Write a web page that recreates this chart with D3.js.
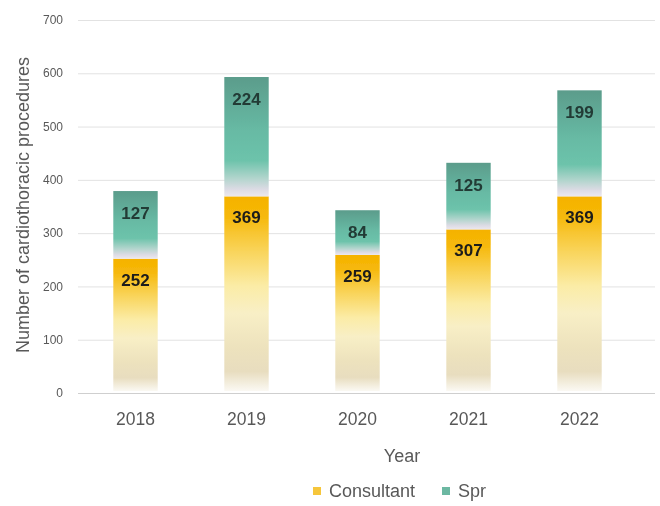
<!DOCTYPE html>
<html>
<head>
<meta charset="utf-8">
<script src="https://cdn.jsdelivr.net/npm/d3@7"></script>
<style>
  html, body { margin: 0; padding: 0; background: #fff; }
  svg { display: block; font-family: "Liberation Sans", Arial, sans-serif; }
</style>
</head>
<body>
<svg id="chart" width="660" height="506"></svg>
<script>
// Cardiothoracic procedures per year, split by grade of operator
const years = ["2018", "2019", "2020", "2021", "2022"];
const consultant = [252, 369, 259, 307, 369];
const spr = [127, 224, 84, 125, 199];
const yTicks = [0, 100, 200, 300, 400, 500, 600, 700];
const seriesNames = ["Consultant", "Spr"];

const svg = d3.select("#chart");
const width = 660, height = 506;
const margin = { left: 80, right: 25, top: 18, bottom: 113 };

const x = d3.scaleBand()
  .domain(years)
  .range([margin.left, width - margin.right])
  .paddingInner(0.6)
  .paddingOuter(0.3);

const y = d3.scaleLinear()
  .domain([0, 700])
  .range([height - margin.bottom, margin.top + 2]);

const defs = svg.append("defs");

// Soft rendering of the whole drawing
defs.append("filter").attr("id", "soft")
  .append("feGaussianBlur").attr("stdDeviation", 0.45);

// Gradients for the two series
const gCons = defs.append("linearGradient")
  .attr("id", "gradCons").attr("x1", 0).attr("y1", 0).attr("x2", 0).attr("y2", 1);
[
  [0, "#f5b200"], [0.1, "#f6b80a"], [0.28, "#f9d45a"], [0.46, "#fbeca6"],
  [0.6, "#f8efc6"], [0.78, "#ede2bd"], [0.9, "#e8ddbf"], [1, "#fbf9f3"]
].forEach(([o, c]) => gCons.append("stop").attr("offset", o).attr("stop-color", c));

const gSpr = defs.append("linearGradient")
  .attr("id", "gradSpr").attr("x1", 0).attr("y1", 0).attr("x2", 0).attr("y2", 1);
[
  [0, "#5b9c8b"], [0.45, "#67baa4"], [0.7, "#6dc3ab"], [0.85, "#b2d5cd"],
  [0.94, "#dcdbe4"], [1, "#ece8ef"]
].forEach(([o, c]) => gSpr.append("stop").attr("offset", o).attr("stop-color", c));

const root = svg.append("g").attr("filter", "url(#soft)");

// Gridlines
root.append("g")
  .selectAll("line")
  .data(yTicks)
  .join("line")
  .attr("x1", 78).attr("x2", 655)
  .attr("y1", d => y(d) + 0.5).attr("y2", d => y(d) + 0.5)
  .attr("stroke", d => d === 0 ? "#cfcfcf" : "#e2e2e2")
  .attr("stroke-width", 1);

// Y axis labels
root.append("g")
  .selectAll("text")
  .data(yTicks)
  .join("text")
  .attr("x", 63)
  .attr("y", d => y(d))
  .attr("dy", "0.35em")
  .attr("text-anchor", "end")
  .attr("font-size", 12)
  .attr("fill", "#595959")
  .text(d => d);

// Stacked bars
const rows = years.map((yr, i) => ({ year: yr, consultant: consultant[i], spr: spr[i] }));
const stack = d3.stack().keys(["consultant", "spr"])(rows);
const fills = { consultant: "url(#gradCons)", spr: "url(#gradSpr)" };
const labelColor = { consultant: "#1b1b1b", spr: "#233a35" };

stack.forEach(layer => {
  const g = root.append("g");
  g.selectAll("rect")
    .data(layer)
    .join("rect")
    .attr("x", d => x(d.data.year))
    .attr("width", x.bandwidth())
    .attr("y", d => y(d[1]))
    .attr("height", d => y(d[0]) - y(d[1]) - (layer.key === "consultant" ? 2 : 0))
    .attr("fill", fills[layer.key]);
  g.selectAll("text")
    .data(layer)
    .join("text")
    .attr("x", d => x(d.data.year) + x.bandwidth() / 2)
    .attr("y", d => y(d[1]) + (layer.key === "spr" ? 28 : 27))
    .attr("text-anchor", "middle")
    .attr("font-size", 17)
    .attr("font-weight", "bold")
    .attr("fill", labelColor[layer.key])
    .text(d => d.data[layer.key]);
});

// X axis labels
root.append("g")
  .selectAll("text")
  .data(years)
  .join("text")
  .attr("x", d => x(d) + x.bandwidth() / 2)
  .attr("y", 425)
  .attr("text-anchor", "middle")
  .attr("font-size", 17.5)
  .attr("fill", "#595959")
  .text(d => d);

// Axis titles
root.append("text")
  .attr("x", 402)
  .attr("y", 462)
  .attr("text-anchor", "middle")
  .attr("font-size", 18)
  .attr("fill", "#595959")
  .text("Year");

root.append("text")
  .attr("transform", "translate(29, 205) rotate(-90)")
  .attr("text-anchor", "middle")
  .attr("font-size", 18)
  .attr("fill", "#595959")
  .text("Number of cardiothoracic procedures");

// Legend
const legend = root.append("g").attr("transform", "translate(0, 491)");
const legendX = [313, 442];
const legendColor = ["#f6c63a", "#6cb8a2"];
seriesNames.forEach((name, i) => {
  legend.append("rect")
    .attr("x", legendX[i]).attr("y", -4)
    .attr("width", 8).attr("height", 8)
    .attr("fill", legendColor[i]);
  legend.append("text")
    .attr("x", legendX[i] + 16)
    .attr("y", 0)
    .attr("dy", "0.35em")
    .attr("font-size", 18)
    .attr("fill", "#595959")
    .text(name);
});
</script>
</body>
</html>
